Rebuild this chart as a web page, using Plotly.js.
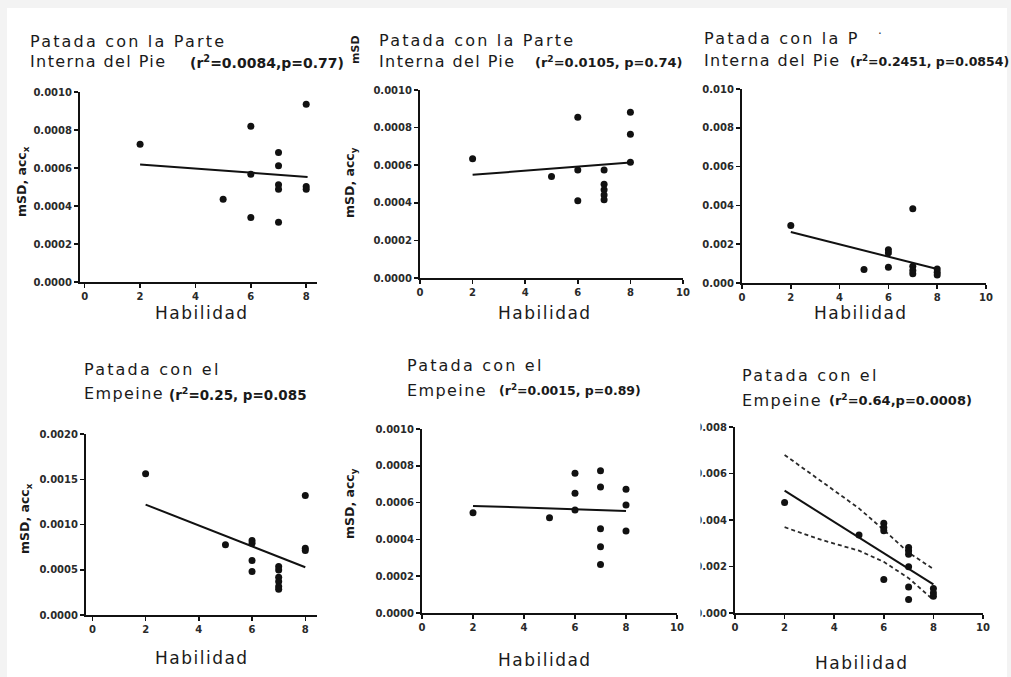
<!DOCTYPE html>
<html>
<head>
<meta charset="utf-8">
<script src="https://cdn.plot.ly/plotly-3.0.1.min.js"></script>
<style>
  html, body { margin: 0; padding: 0; background: #f3f3f3; }
  #chart { width: 1011px; height: 677px; }
  text[style*="Verdana"], tspan[style*="Verdana"] { letter-spacing: 2.2px; }
  text[style*="Geneva"], tspan[style*="Geneva"] { letter-spacing: 1.4px; }
  text[style*="Tahoma"], tspan[style*="Tahoma"] { letter-spacing: 1.5px; }
</style>
</head>
<body>
<div id="chart"></div>
<script>
// ---------------- data ----------------
// Panel 1: Patada con la Parte Interna del Pie, mSD acc_x
const x1 = [2, 5, 6, 6, 6, 7, 7, 7, 7, 7, 8, 8, 8];
const y1 = [0.000725, 0.000435, 0.00082, 0.000567, 0.000339, 0.000682, 0.000612, 0.000512, 0.000488, 0.000314, 0.000935, 0.000502, 0.000488];
const fitX1 = [2, 8.05];
const fitY1 = [0.000619, 0.000553];

// Panel 2: Patada con la Parte Interna del Pie, mSD acc_y
const x2 = [2, 5, 6, 6, 6, 7, 7, 7, 7, 7, 8, 8, 8];
const y2 = [0.000634, 0.00054, 0.000855, 0.000575, 0.000411, 0.000575, 0.000499, 0.000469, 0.000442, 0.000416, 0.000881, 0.000765, 0.000616];
const fitX2 = [2, 8];
const fitY2 = [0.000549, 0.000614];

// Panel 3: Patada con la Parte Interna del Pie, mSD
const x3 = [2, 5, 6, 6, 6, 7, 7, 7, 7, 8, 8, 8];
const y3 = [0.00297, 0.00069, 0.00172, 0.00155, 0.00081, 0.00383, 0.00086, 0.00065, 0.00048, 0.00072, 0.00055, 0.00041];
const fitX3 = [2, 8];
const fitY3 = [0.00263, 0.00072];

// Panel 4: Patada con el Empeine, mSD acc_x
const x4 = [2, 5, 6, 6, 6, 6, 7, 7, 7, 7, 7, 7, 8, 8, 8];
const y4 = [0.00156, 0.000775, 0.000823, 0.000793, 0.000601, 0.00048, 0.000535, 0.000498, 0.000417, 0.000369, 0.000314, 0.000284, 0.00132, 0.000738, 0.000712];
const fitX4 = [2, 8];
const fitY4 = [0.00122, 0.000528];

// Panel 5: Patada con el Empeine, mSD acc_y
const x5 = [2, 5, 6, 6, 6, 7, 7, 7, 7, 7, 8, 8, 8];
const y5 = [0.000545, 0.000518, 0.00076, 0.000651, 0.00056, 0.000773, 0.000685, 0.000458, 0.00036, 0.000264, 0.000673, 0.000587, 0.000445];
const fitX5 = [2, 8];
const fitY5 = [0.000582, 0.000555];

// Panel 6: Patada con el Empeine, mSD (with confidence band)
const x6 = [2, 5, 6, 6, 6, 6, 7, 7, 7, 7, 7, 7, 8, 8, 8];
const y6 = [0.00475, 0.00335, 0.00386, 0.00368, 0.00354, 0.00144, 0.00282, 0.00268, 0.00253, 0.00199, 0.00112, 0.00058, 0.00105, 0.00086, 0.00072];
const fitX6 = [2, 8];
const fitY6 = [0.00526, 0.00123];
const ciX6 = [2, 3.5, 5, 6, 7, 8];
const ciUpper6 = [0.0068, 0.00565, 0.0045, 0.00357, 0.0026, 0.00189];
const ciLower6 = [0.00369, 0.00314, 0.00268, 0.0022, 0.0015, 0.00056];

// text
const titleLine1 = ["Patada con la Parte", "Patada con la Parte", "Patada con la P", "Patada con el", "Patada con el", "Patada con el"];
const titleLine2 = ["Interna del Pie", "Interna del Pie", "Interna del Pie", "Empeine", "Empeine", "Empeine"];
const statText = ["(r<sup>2</sup>=0.0084,p=0.77)", "(r<sup>2</sup>=0.0105, p=0.74)", "(r<sup>2</sup>=0.2451, p=0.0854)",
                  "(r<sup>2</sup>=0.25, p=0.085", "(r<sup>2</sup>=0.0015, p=0.89)", "(r<sup>2</sup>=0.64,p=0.0008)"];
const xTitle = "Habilidad";
const yTitles = ["mSD, acc<sub>x</sub>", "mSD, acc<sub>y</sub>", "", "mSD, acc<sub>x</sub>", "mSD, acc<sub>y</sub>", ""];

// ---------------- layout geometry (pixels) ----------------
const W = 1011, H = 677;
const px = v => v / W;
const py = v => 1 - v / H;

const panels = [
  {l: 80,  r: 317, t: 92,  b: 282, xr: [-0.17, 8.39], yr: [0, 0.001], dy: 0.0002, fmt: '.4f'},
  {l: 420, r: 683, t: 90,  b: 278, xr: [0, 10],       yr: [0, 0.001], dy: 0.0002, fmt: '.4f'},
  {l: 742, r: 986, t: 89,  b: 283, xr: [0, 10],       yr: [0, 0.010], dy: 0.002,  fmt: '.3f'},
  {l: 86,  r: 317, t: 434, b: 615, xr: [-0.24, 8.44], yr: [0, 0.002], dy: 0.0005, fmt: '.4f'},
  {l: 422, r: 677, t: 429, b: 613, xr: [0, 10],       yr: [0, 0.001], dy: 0.0002, fmt: '.4f'},
  {l: 735, r: 983, t: 427, b: 613, xr: [0, 10],       yr: [0, 0.008], dy: 0.002,  fmt: '.3f'}
];

const titlePos = [
  {x: 28,  y1: 41,  y2: 62,  sx: 188, ss: 14},
  {x: 377, y1: 40,  y2: 62,  sx: 533, ss: 13},
  {x: 702, y1: 38.5, y2: 61, sx: 848, ss: 12.5},
  {x: 82,  y1: 369, y2: 393.5, sx: 167, ss: 13.5},
  {x: 405, y1: 365.5, y2: 390, sx: 497, ss: 12.5},
  {x: 740, y1: 375, y2: 400, sx: 827, ss: 13}
];
const xTitlePos = [[202, 313], [545, 313], [861, 313], [202, 658], [545, 660], [862, 663]];
const yTitlePos = [[23, 182], [350, 183], null, [25, 519], [350, 504], null];

const ink = '#111111';
const tickFont = {family: '"DejaVu Sans"', size: 10, weight: 'bold', color: '#2a2a2a'};

const xs = [x1, x2, x3, x4, x5, x6];
const ys = [y1, y2, y3, y4, y5, y6];
const fxs = [fitX1, fitX2, fitX3, fitX4, fitX5, fitX6];
const fys = [fitY1, fitY2, fitY3, fitY4, fitY5, fitY6];

const traces = [];
const layout = {
  width: W, height: H,
  margin: {l: 0, r: 0, t: 0, b: 0},
  paper_bgcolor: '#f3f3f3',
  plot_bgcolor: 'rgba(0,0,0,0)',
  showlegend: false,
  shapes: [
    {type: 'rect', xref: 'paper', yref: 'paper', x0: px(7), x1: px(1007), y0: 0, y1: py(8),
     fillcolor: '#ffffff', line: {width: 0}, layer: 'below'},
    {type: 'rect', xref: 'paper', yref: 'paper', x0: px(688), x1: px(700.5), y0: py(625), y1: py(415),
     fillcolor: '#ffffff', line: {width: 0}, layer: 'above'}
  ],
  annotations: []
};

panels.forEach((p, i) => {
  const n = i + 1;
  const xa = 'x' + (n === 1 ? '' : n);
  const ya = 'y' + (n === 1 ? '' : n);
  const xk = 'xaxis' + (n === 1 ? '' : n);
  const yk = 'yaxis' + (n === 1 ? '' : n);

  layout[xk] = {
    domain: [px(p.l), px(p.r)], range: p.xr, anchor: ya,
    tick0: 0, dtick: 2, tickformat: 'd',
    showline: true, linecolor: ink, linewidth: 2,
    ticks: 'outside', ticklen: 4, tickwidth: 1.5, tickcolor: ink,
    showgrid: false, zeroline: false, tickfont: tickFont, fixedrange: true
  };
  layout[yk] = {
    domain: [py(p.b), py(p.t)], range: p.yr, anchor: xa,
    tick0: 0, dtick: p.dy, tickformat: p.fmt,
    showline: true, linecolor: ink, linewidth: 2,
    ticks: 'outside', ticklen: 4, tickwidth: 1.5, tickcolor: ink,
    showgrid: false, zeroline: false, tickfont: tickFont, fixedrange: true
  };

  if (i === 5) {
    traces.push({x: ciX6, y: ciUpper6, xaxis: xa, yaxis: ya, mode: 'lines', type: 'scatter',
                 line: {color: '#2a2a2a', width: 1.8, dash: '4px,3px'}, hoverinfo: 'skip'});
    traces.push({x: ciX6, y: ciLower6, xaxis: xa, yaxis: ya, mode: 'lines', type: 'scatter',
                 line: {color: '#2a2a2a', width: 1.8, dash: '4px,3px'}, hoverinfo: 'skip'});
  }
  traces.push({x: fxs[i], y: fys[i], xaxis: xa, yaxis: ya, mode: 'lines', type: 'scatter',
               line: {color: ink, width: 2}, hoverinfo: 'skip'});
  traces.push({x: xs[i], y: ys[i], xaxis: xa, yaxis: ya, mode: 'markers', type: 'scatter',
               marker: {color: ink, size: 7}, cliponaxis: false});

  const tp = titlePos[i];
  layout.annotations.push({xref: 'paper', yref: 'paper', x: px(tp.x), y: py(tp.y1), xanchor: 'left', yanchor: 'middle',
    text: titleLine1[i], showarrow: false, font: {family: 'Verdana, "DejaVu Sans"', size: 16, color: '#1a1a1a'}});
  layout.annotations.push({xref: 'paper', yref: 'paper', x: px(tp.x), y: py(tp.y2), xanchor: 'left', yanchor: 'middle',
    text: titleLine2[i], showarrow: false, font: {family: 'Geneva, "DejaVu Sans"', size: 16, color: '#1a1a1a'}});
  layout.annotations.push({xref: 'paper', yref: 'paper', x: px(tp.sx), y: py(tp.y2), xanchor: 'left', yanchor: 'middle',
    text: statText[i], showarrow: false, font: {family: '"DejaVu Sans"', size: tp.ss, weight: 'bold', color: '#1a1a1a'}});

  layout.annotations.push({xref: 'paper', yref: 'paper', x: px(xTitlePos[i][0]), y: py(xTitlePos[i][1]),
    xanchor: 'center', yanchor: 'middle', text: xTitle, showarrow: false,
    font: {family: 'Tahoma, "DejaVu Sans"', size: 17, color: '#1a1a1a'}});

  if (yTitlePos[i]) {
    layout.annotations.push({xref: 'paper', yref: 'paper', x: px(yTitlePos[i][0]), y: py(yTitlePos[i][1]),
      xanchor: 'center', yanchor: 'middle', textangle: -90, text: yTitles[i], showarrow: false,
      font: {family: '"DejaVu Sans"', size: 12.5, weight: 'bold', color: '#1a1a1a'}});
  }
});

// stray marks seen in the heading areas of the picture
layout.annotations.push({xref: 'paper', yref: 'paper', x: px(355), y: py(50), xanchor: 'center', yanchor: 'middle',
  textangle: -90, text: 'mSD', showarrow: false,
  font: {family: '"DejaVu Sans"', size: 11, weight: 'bold', color: '#1a1a1a'}});
layout.annotations.push({xref: 'paper', yref: 'paper', x: px(880), y: py(34), xanchor: 'center', yanchor: 'middle',
  text: '·', showarrow: false, font: {family: '"DejaVu Sans"', size: 12, color: '#333'}});

Plotly.newPlot('chart', traces, layout, {displayModeBar: false, staticPlot: true});
</script>
</body>
</html>
